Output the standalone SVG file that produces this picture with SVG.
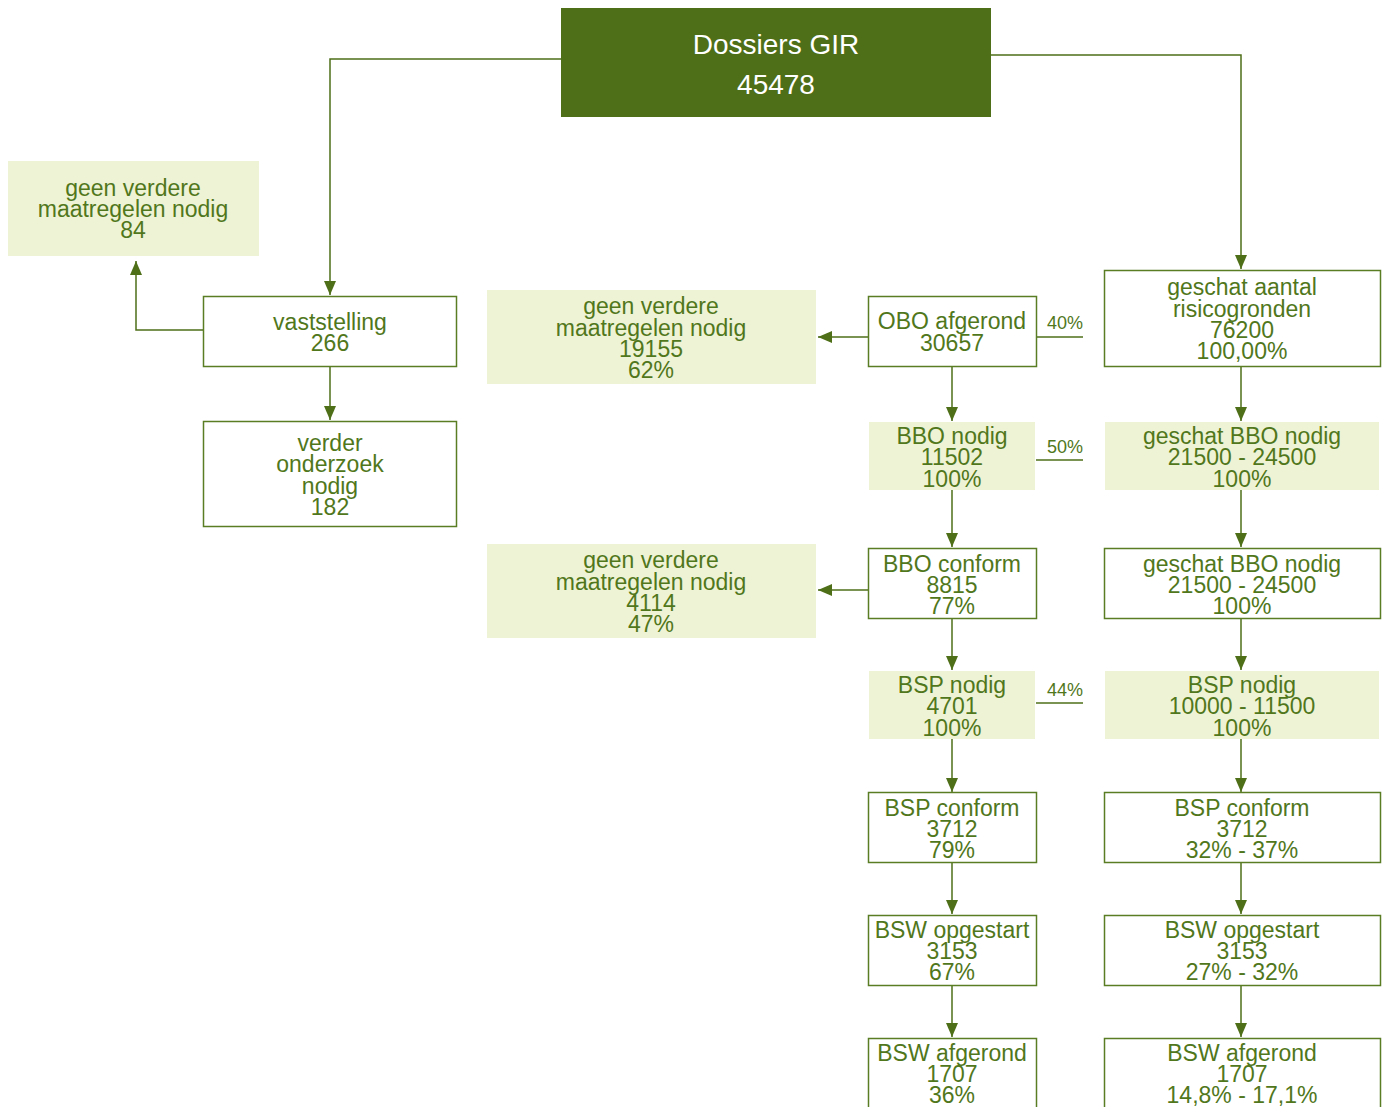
<svg xmlns="http://www.w3.org/2000/svg" width="1382" height="1107" viewBox="0 0 1382 1107">
<defs>
<marker id="ah" markerUnits="userSpaceOnUse" markerWidth="14" markerHeight="12" viewBox="0 0 14 12" refX="14" refY="6" orient="auto">
<path d="M0,0 L14,6 L0,12 Z" fill="#4e6e18"/>
</marker>
<style>
.t{font-family:"Liberation Sans",Arial,sans-serif;font-size:23px;fill:#51771c;text-anchor:middle}
.b{font-weight:bold}
.p{font-family:"Liberation Sans",Arial,sans-serif;font-size:18px;fill:#51771c;text-anchor:middle}
.w{font-family:"Liberation Sans",Arial,sans-serif;font-size:28px;fill:#ffffff;text-anchor:middle}
.box{fill:#ffffff;stroke:#5a7d24;stroke-width:1.5}
.lt{fill:#eff3d5}
.c{fill:none;stroke:#4e6e18;stroke-width:1.5}
.ca{fill:none;stroke:#4e6e18;stroke-width:1.5;marker-end:url(#ah)}
</style>
</defs>
<rect width="1382" height="1107" fill="#ffffff"/>
<g id="connectors">
<path class="ca" d="M561,59 H330 V295"/>
<path class="ca" d="M991,55 H1241 V269"/>
<path class="ca" d="M203,330 H136 V261"/>
<path class="ca" d="M330,366 V420"/>
<path class="ca" d="M868,337 H818"/>
<path class="ca" d="M868,590 H818"/>
<path class="c" d="M1036,337 H1083"/>
<path class="c" d="M1036,460 H1083"/>
<path class="c" d="M1036,703 H1083"/>
<path class="ca" d="M952,366 V421"/>
<path class="ca" d="M952,490 V547"/>
<path class="ca" d="M952,619 V670"/>
<path class="ca" d="M952,739 V792"/>
<path class="ca" d="M952,863 V914"/>
<path class="ca" d="M952,985 V1037"/>
<path class="ca" d="M1241,366 V421"/>
<path class="ca" d="M1241,490 V547"/>
<path class="ca" d="M1241,619 V670"/>
<path class="ca" d="M1241,739 V792"/>
<path class="ca" d="M1241,863 V914"/>
<path class="ca" d="M1241,985 V1037"/>
</g>
<g id="top">
<rect x="561" y="8" width="430" height="109" fill="#4e6e18"/>
<text class="w" x="776" y="54">Dossiers GIR</text>
<text class="w" x="776" y="94">45478</text>
</g>
<g id="geen1">
<rect class="lt" x="8" y="161" width="251" height="95"/>
<text class="t" x="133" y="196">geen verdere</text>
<text class="t" x="133" y="217">maatregelen nodig</text>
<text class="t" x="133" y="238">84</text>
</g>
<g id="vaststelling">
<rect class="box" x="203.5" y="296.5" width="253" height="70"/>
<text class="t" x="330" y="330">vaststelling</text>
<text class="t" x="330" y="351">266</text>
</g>
<g id="verder">
<rect class="box" x="203.5" y="421.5" width="253" height="105"/>
<text class="t" x="330" y="451">verder</text>
<text class="t" x="330" y="472">onderzoek</text>
<text class="t" x="330" y="494">nodig</text>
<text class="t" x="330" y="515">182</text>
</g>
<g id="geen2">
<rect class="lt" x="487" y="290" width="329" height="94"/>
<text class="t" x="651" y="314">geen verdere</text>
<text class="t" x="651" y="336">maatregelen nodig</text>
<text class="t" x="651" y="357">19155</text>
<text class="t" x="651" y="378">62%</text>
</g>
<g id="obo">
<rect class="box" x="868.5" y="296.5" width="168" height="70"/>
<text class="t" x="952" y="329">OBO afgerond</text>
<text class="t" x="952" y="351">30657</text>
<text class="p" x="1065" y="329">40%</text>
</g>
<g id="geschat-aantal">
<rect class="box" x="1104.5" y="270.5" width="276" height="96"/>
<text class="t" x="1242" y="295">geschat aantal</text>
<text class="t" x="1242" y="317">risicogronden</text>
<text class="t" x="1242" y="338">76200</text>
<text class="t" x="1242" y="359">100,00%</text>
</g>
<g id="bbo-nodig">
<rect class="lt" x="869" y="422" width="166" height="68"/>
<text class="t" x="952" y="444">BBO nodig</text>
<text class="t" x="952" y="465">11502</text>
<text class="t" x="952" y="487">100%</text>
<text class="p" x="1065" y="453">50%</text>
</g>
<g id="geschat-bbo-1">
<rect class="lt" x="1105" y="422" width="274" height="68"/>
<text class="t" x="1242" y="444">geschat BBO nodig</text>
<text class="t" x="1242" y="465">21500 - 24500</text>
<text class="t" x="1242" y="487">100%</text>
</g>
<g id="geen3">
<rect class="lt" x="487" y="544" width="329" height="94"/>
<text class="t" x="651" y="568">geen verdere</text>
<text class="t" x="651" y="590">maatregelen nodig</text>
<text class="t" x="651" y="611">4114</text>
<text class="t" x="651" y="632">47%</text>
</g>
<g id="bbo-conform">
<rect class="box" x="868.5" y="548.5" width="168" height="70"/>
<text class="t" x="952" y="572">BBO conform</text>
<text class="t" x="952" y="593">8815</text>
<text class="t" x="952" y="614">77%</text>
</g>
<g id="geschat-bbo-2">
<rect class="box" x="1104.5" y="548.5" width="276" height="70"/>
<text class="t" x="1242" y="572">geschat BBO nodig</text>
<text class="t" x="1242" y="593">21500 - 24500</text>
<text class="t" x="1242" y="614">100%</text>
</g>
<g id="bsp-nodig">
<rect class="lt" x="869" y="671" width="166" height="68"/>
<text class="t" x="952" y="693">BSP nodig</text>
<text class="t" x="952" y="714">4701</text>
<text class="t" x="952" y="736">100%</text>
<text class="p" x="1065" y="696">44%</text>
</g>
<g id="bsp-nodig-r">
<rect class="lt" x="1105" y="671" width="274" height="68"/>
<text class="t" x="1242" y="693">BSP nodig</text>
<text class="t" x="1242" y="714">10000 - 11500</text>
<text class="t" x="1242" y="736">100%</text>
</g>
<g id="bsp-conform">
<rect class="box" x="868.5" y="792.5" width="168" height="70"/>
<text class="t" x="952" y="816">BSP conform</text>
<text class="t" x="952" y="837">3712</text>
<text class="t" x="952" y="858">79%</text>
</g>
<g id="bsp-conform-r">
<rect class="box" x="1104.5" y="792.5" width="276" height="70"/>
<text class="t" x="1242" y="816">BSP conform</text>
<text class="t" x="1242" y="837">3712</text>
<text class="t" x="1242" y="858">32% - 37%</text>
</g>
<g id="bsw-opgestart">
<rect class="box" x="868.5" y="915.5" width="168" height="70"/>
<text class="t" x="952" y="938">BSW opgestart</text>
<text class="t" x="952" y="959">3153</text>
<text class="t" x="952" y="980">67%</text>
</g>
<g id="bsw-opgestart-r">
<rect class="box" x="1104.5" y="915.5" width="276" height="70"/>
<text class="t" x="1242" y="938">BSW opgestart</text>
<text class="t" x="1242" y="959">3153</text>
<text class="t" x="1242" y="980">27% - 32%</text>
</g>
<g id="bsw-afgerond">
<rect class="box" x="868.5" y="1038.5" width="168" height="80"/>
<text class="t" x="952" y="1061">BSW afgerond</text>
<text class="t" x="952" y="1082">1707</text>
<text class="t" x="952" y="1103">36%</text>
</g>
<g id="bsw-afgerond-r">
<rect class="box" x="1104.5" y="1038.5" width="276" height="80"/>
<text class="t" x="1242" y="1061">BSW afgerond</text>
<text class="t" x="1242" y="1082">1707</text>
<text class="t" x="1242" y="1103">14,8% - 17,1%</text>
</g>
</svg>
